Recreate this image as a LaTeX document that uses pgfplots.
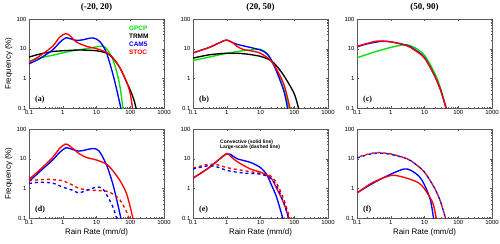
\documentclass[border=0pt]{standalone}
\usepackage{fontspec}
\setmainfont{Liberation Sans}
\newfontfamily\serifb{Liberation Serif}
\usepackage{pgfplots}
\pgfplotsset{compat=1.18}
\definecolor{gg}{RGB}{0,225,0}
\definecolor{framec}{RGB}{90,90,90}
\pgfplotsset{
    scale only axis, width=135bp, height=89bp,
    xmin=0.1, xmax=1000, ymin=0.1, ymax=100,
    xtick={0.1,1,10,100,1000}, xticklabels={0.1,1,10,100,1000},
    ytick={0.1,1,10,100}, yticklabels={0.1,1,10,100},
    tick align=inside, major tick length=2pt, minor tick length=1pt,
    axis line style={framec, line width=0.5pt},
    tick style={framec},
    tick label style={font=\fontsize{6}{7}\selectfont},
    label style={font=\fontsize{8}{9}\selectfont},
    xlabel style={yshift=3pt},
    ylabel style={yshift=-3pt},
    xticklabel style={yshift=1pt},
    yticklabel style={xshift=1pt},
    title style={font=\serifb\bfseries\fontsize{9}{10}\selectfont, yshift=-2pt},
    every axis plot/.append style={line width=1.35pt, smooth, tension=0.5},
}
\newcommand{\plab}[1]{\node[anchor=south west, font=\serifb\bfseries\fontsize{8}{9}\selectfont] at (rel axis cs:0.02,0.02) {(#1)};}
\begin{document}
\begin{tikzpicture}
\path[use as bounding box] (0,0) rectangle (500bp,-244bp);
% (a)
\begin{loglogaxis}[anchor=north west, at={(29bp,-19bp)}, title={(-20, 20)}, ylabel={Frequency (\%)}]
\addplot[gg] coordinates {(0.1,3.8)(0.2,4.8)(0.5,6)(1,7.2)(2,8.5)(5,10)(10,11.5)(15,12)(20,10)(30,4.5)(40,1.6)(50,0.5)(62,0.08)};
\addplot[black] coordinates {(0.1,5.2)(0.2,6.5)(0.5,8)(1,8.5)(3,9)(10,8.5)(20,7)(30,5)(50,2.2)(80,0.7)(100,0.4)(130,0.18)(155,0.08)};
\addplot[blue] coordinates {(0.1,3.1)(0.2,4.5)(0.5,9)(0.8,16)(1.2,23)(1.6,22)(2.5,19)(4,20)(7,23)(10,21)(14,15)(20,7)(30,1.5)(40,0.4)(55,0.08)};
\addplot[red] coordinates {(0.1,3.5)(0.2,5.5)(0.5,12)(0.8,24)(1.2,32)(1.6,28)(2.5,17)(5,12)(10,10)(20,7.5)(30,5)(50,2.2)(80,0.7)(100,0.3)(120,0.08)};
\plab{a}
\node[anchor=west, font=\bfseries\fontsize{6.5}{7}\selectfont, text=gg, inner sep=0pt] at (rel axis cs:0.74,0.9) {GPCP};
\node[anchor=west, font=\bfseries\fontsize{6.5}{7}\selectfont, text=black, inner sep=0pt] at (rel axis cs:0.74,0.81) {TRMM};
\node[anchor=west, font=\bfseries\fontsize{6.5}{7}\selectfont, text=blue, inner sep=0pt] at (rel axis cs:0.74,0.72) {CAM5};
\node[anchor=west, font=\bfseries\fontsize{6.5}{7}\selectfont, text=red, inner sep=0pt] at (rel axis cs:0.74,0.63) {STOC};
\end{loglogaxis}
% (b)
\begin{loglogaxis}[anchor=north west, at={(193bp,-19bp)}, title={(20, 50)}]
\addplot[gg] coordinates {(0.1,4)(0.3,5.2)(1,7)(3,8.5)(5,9)(10,9.5)(15,7)(20,4.5)(30,1.8)(50,0.4)(72,0.08)};
\addplot[black] coordinates {(0.1,4.8)(0.3,6.2)(1,7)(3,6.8)(10,5.5)(20,4)(30,2.6)(50,1.2)(100,0.3)(140,0.08)};
\addplot[blue] coordinates {(0.1,7.2)(0.3,11)(0.7,17)(1,19.5)(1.5,16)(2,14)(5,11)(10,9)(15,7)(20,4.5)(30,1.7)(50,0.35)(65,0.08)};
\addplot[red] coordinates {(0.1,7.2)(0.3,11)(0.7,17)(1,19.5)(1.5,16)(2,12)(3,9.5)(5,8.5)(10,7)(20,4)(30,2)(50,0.6)(78,0.08)};
\plab{b}
\end{loglogaxis}
% (c)
\begin{loglogaxis}[anchor=north west, at={(357bp,-19bp)}, title={(50, 90)}]
\addplot[gg] coordinates {(0.1,4.9)(0.3,7.5)(1,11)(2,13)(3,13.5)(5,11)(10,6)(20,1.5)(30,0.45)(46,0.08)};
\addplot[blue] coordinates {(0.1,11.5)(0.2,14.5)(0.5,17.5)(1,17)(3,13)(5,9.5)(10,5)(20,1.2)(30,0.4)(46,0.08)};
\addplot[red] coordinates {(0.1,12)(0.2,15)(0.4,18)(1,17)(3,12.5)(5,9)(10,4.8)(20,1.2)(30,0.4)(46,0.08)};
\plab{c}
\end{loglogaxis}
% (d)
\begin{loglogaxis}[anchor=north west, at={(29bp,-129bp)}, xlabel={Rain Rate (mm/d)}, ylabel={Frequency (\%)}]
\addplot[blue] coordinates {(0.1,1.7)(0.2,3.5)(0.5,9)(0.8,16)(1.2,23)(1.6,22)(3,18)(5,20)(8,22)(12,18)(20,6)(30,1.5)(40,0.4)(55,0.08)};
\addplot[red] coordinates {(0.1,2)(0.2,4)(0.5,11)(0.8,22)(1.2,31)(1.6,27)(3,15)(5,11)(10,9)(20,6.5)(30,4)(50,1.8)(80,0.6)(125,0.08)};
\addplot[red, dashed] coordinates {(0.1,1.8)(0.2,1.95)(0.4,2)(1,1.8)(1.5,1.5)(3,1.0)(5,0.9)(10,0.85)(20,0.8)(30,0.65)(50,0.4)(80,0.15)(95,0.08)};
\addplot[blue, dashed] coordinates {(0.1,1.45)(0.2,1.6)(0.5,1.5)(1,1.1)(2,0.85)(3,0.7)(5,0.85)(10,1.1)(15,1.0)(20,0.6)(30,0.25)(42,0.08)};
\plab{d}
\end{loglogaxis}
% (e)
\begin{loglogaxis}[anchor=north west, at={(193bp,-129bp)}, xlabel={Rain Rate (mm/d)}]
\addplot[blue] coordinates {(0.1,2.2)(0.3,5)(0.7,11)(1,14.5)(1.3,14)(2,10)(5,7.5)(10,5)(15,3)(20,1.5)(30,0.5)(48,0.08)};
\addplot[red] coordinates {(0.1,2.2)(0.3,5)(0.7,11)(1,15)(1.3,12)(2,8)(5,4.5)(10,3.5)(20,2.3)(30,1)(50,0.3)(72,0.08)};
\addplot[red, dashed] coordinates {(0.1,4.8)(0.3,6.5)(0.6,6)(1,5)(3,4)(10,3.2)(20,2.6)(30,1.5)(50,0.4)(78,0.08)};
\addplot[blue, dashed] coordinates {(0.1,4.5)(0.3,5.8)(0.6,5)(1,4)(3,3.3)(10,3)(20,2.2)(30,1.2)(50,0.3)(72,0.08)};
\plab{e}
\node[anchor=west, font=\bfseries\fontsize{5}{6}\selectfont, inner sep=0pt, align=left] at (rel axis cs:0.2,0.82) {Convective (solid line)\\[-1pt]Large-scale (dashed line)};
\end{loglogaxis}
% (f)
\begin{loglogaxis}[anchor=north west, at={(357bp,-129bp)}, xlabel={Rain Rate (mm/d)}]
\addplot[blue, dashed] coordinates {(0.1,10.5)(0.2,13.5)(0.4,15.5)(1,14)(3,10)(5,7)(10,3.5)(20,1)(30,0.35)(44,0.08)};
\addplot[red, dashed, dash phase=3pt] coordinates {(0.1,11)(0.2,14)(0.4,16)(1,14.5)(3,10)(5,7)(10,3.5)(20,1)(30,0.35)(44,0.08)};
\addplot[blue] coordinates {(0.1,0.7)(0.3,1.5)(1,3)(2.5,4.5)(4,4)(7,2.5)(10,1.3)(15,0.4)(19,0.08)};
\addplot[red] coordinates {(0.1,0.7)(0.3,1.6)(1,2.7)(2,2.5)(5,1.8)(8,1.3)(12,0.7)(18,0.3)(23,0.08)};
\plab{f}
\end{loglogaxis}
\end{tikzpicture}
\end{document}
